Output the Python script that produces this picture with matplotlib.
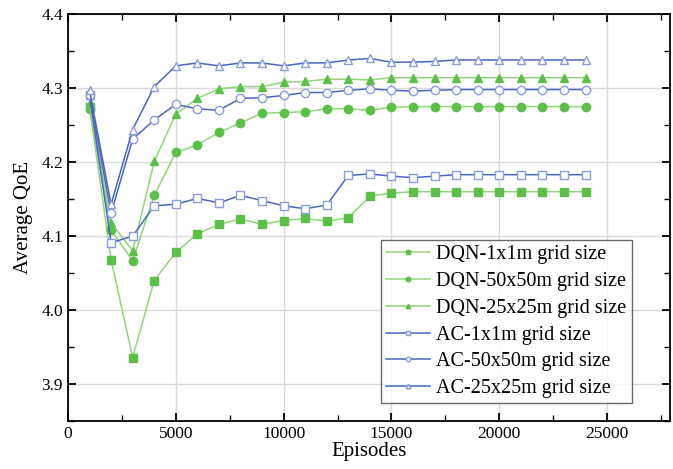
import matplotlib
matplotlib.use('Agg')
import matplotlib.pyplot as plt
from matplotlib.ticker import MultipleLocator

plt.rcParams['font.family'] = ['Liberation Serif', 'DejaVu Serif']

episodes = [1000 * i for i in range(1, 25)]

dqn_1x1 = [4.275, 4.068, 3.936, 4.040, 4.078, 4.103, 4.116, 4.123, 4.116, 4.121,
           4.124, 4.120, 4.125, 4.154, 4.158, 4.160, 4.160, 4.160, 4.160, 4.160,
           4.160, 4.160, 4.160, 4.160]
dqn_50x50 = [4.272, 4.108, 4.067, 4.155, 4.213, 4.223, 4.240, 4.253, 4.266, 4.267,
             4.268, 4.272, 4.272, 4.270, 4.274, 4.275, 4.275, 4.275, 4.275, 4.275,
             4.275, 4.275, 4.275, 4.275]
dqn_25x25 = [4.280, 4.118, 4.080, 4.201, 4.265, 4.286, 4.299, 4.302, 4.302, 4.308,
             4.309, 4.312, 4.312, 4.311, 4.314, 4.314, 4.314, 4.314, 4.314, 4.314,
             4.314, 4.314, 4.314, 4.314]
ac_1x1 = [4.290, 4.091, 4.100, 4.141, 4.143, 4.151, 4.145, 4.155, 4.148, 4.141,
          4.137, 4.142, 4.182, 4.184, 4.181, 4.179, 4.181, 4.183, 4.183, 4.183,
          4.183, 4.183, 4.183, 4.183]
ac_50x50 = [4.290, 4.131, 4.231, 4.257, 4.278, 4.272, 4.270, 4.286, 4.287, 4.290,
            4.294, 4.294, 4.297, 4.299, 4.297, 4.296, 4.297, 4.298, 4.298, 4.298,
            4.298, 4.298, 4.298, 4.298]
ac_25x25 = [4.297, 4.143, 4.244, 4.302, 4.330, 4.334, 4.330, 4.334, 4.334, 4.330,
            4.334, 4.334, 4.338, 4.340, 4.335, 4.335, 4.336, 4.338, 4.338, 4.338,
            4.338, 4.338, 4.338, 4.338]

green_line = '#8fd67c'
green_mark = '#5cbf48'
blue_line = '#4a66c0'
blue_mark = '#8a9ce0'

fig = plt.figure(figsize=(6.73, 4.69), dpi=100)
ax = fig.add_axes([0.101, 0.102, 0.894, 0.868])

series = [
    (dqn_1x1, 'DQN-1x1m grid size', 's', True),
    (dqn_50x50, 'DQN-50x50m grid size', 'o', True),
    (dqn_25x25, 'DQN-25x25m grid size', '^', True),
    (ac_1x1, 'AC-1x1m grid size', 's', False),
    (ac_50x50, 'AC-50x50m grid size', 'o', False),
    (ac_25x25, 'AC-25x25m grid size', '^', False),
]
for vals, lab, mk, dqn in series:
    if dqn:
        ax.plot(episodes, vals, color=green_line, lw=1.1, marker=mk, ms=6,
                mfc=green_mark, mec=green_mark, label=lab, zorder=3)
    else:
        ax.plot(episodes, vals, color=blue_line, lw=1.1, marker=mk, ms=6,
                mfc='white', mec=blue_mark, mew=1.0, label=lab, zorder=3)

ax.set_xlim(0, 27900)
ax.set_ylim(3.85, 4.4)
ax.xaxis.set_major_locator(MultipleLocator(5000))
ax.xaxis.set_minor_locator(MultipleLocator(2500))
ax.yaxis.set_major_locator(MultipleLocator(0.1))
ax.yaxis.set_minor_locator(MultipleLocator(0.05))
ax.tick_params(which='both', direction='in', top=True, right=True, labelsize=12.5)
ax.tick_params(which='major', length=6, width=1.3)
ax.tick_params(which='minor', length=4, width=1.0)
for s in ax.spines.values():
    s.set_linewidth(1.3)
ax.grid(True, which='major', color='#d9d9d9', lw=1.0, zorder=0)
ax.set_axisbelow(True)

ax.set_xlabel('Episodes', fontsize=15, labelpad=0)
ax.set_ylabel('Average QoE', fontsize=15, labelpad=6)

leg = ax.legend(loc='lower right', bbox_to_anchor=(0.937, 0.044),
                fontsize=14.5, frameon=True, fancybox=False, edgecolor='#444444',
                markerscale=0.55, handlelength=2.2, handletextpad=0.3,
                labelspacing=0.38, borderpad=0.25, borderaxespad=0)
leg.get_frame().set_linewidth(1.0)

fig.savefig('out.png', dpi=100)
